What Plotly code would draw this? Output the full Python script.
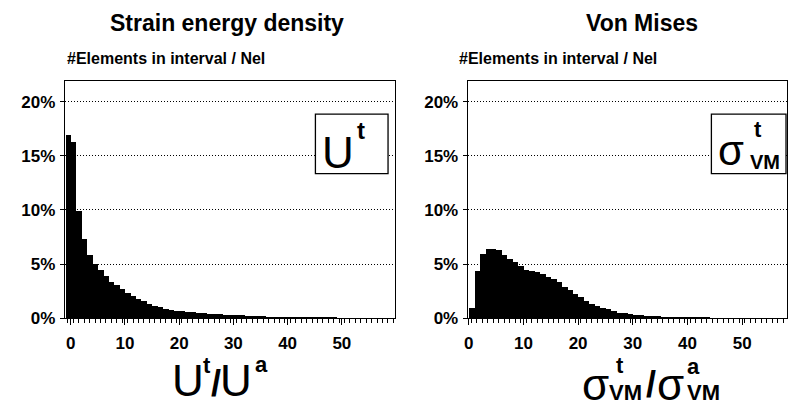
import plotly.graph_objects as go
import numpy as np

# ---------------- data (percent of elements per interval) ----------------
sed_values = [16.9, 16.3, 9.9, 7.3, 5.8, 5.0, 4.45, 3.9, 3.36, 3.04, 2.73, 2.34, 2.05, 1.8,
              1.56, 1.32, 1.14, 0.99, 0.84, 0.75, 0.69, 0.63, 0.57, 0.54, 0.5, 0.46, 0.42,
              0.39, 0.36, 0.33, 0.3, 0.27, 0.25, 0.22, 0.2, 0.18, 0.16, 0.14, 0.12, 0.1,
              0.09, 0.08, 0.07, 0.06, 0.05, 0.04, 0.03, 0.03, 0.02, 0.02, 0.01, 0.01, 0.0,
              0.0, 0.0, 0.0, 0.0, 0.0, 0.0, 0.0]
vm_values = [0.96, 4.4, 5.9, 6.38, 6.38, 6.26, 5.84, 5.45, 5.15, 4.79, 4.49, 4.4, 4.25, 4.04,
             3.8, 3.6, 3.3, 2.9, 2.63, 2.25, 1.95, 1.59, 1.35, 1.14, 0.96, 0.81, 0.69, 0.51,
             0.45, 0.39, 0.33, 0.27, 0.24, 0.2, 0.16, 0.13, 0.1, 0.08, 0.06, 0.05, 0.04,
             0.03, 0.02, 0.02, 0.01, 0.01, 0.0, 0.0, 0.0, 0.0, 0.0, 0.0, 0.0, 0.0, 0.0,
             0.0, 0.0, 0.0]
sed_bin_start = -1.0   # first interval of left histogram
vm_bin_start = 0.0     # first interval of right histogram
x_tick_vals = [0, 10, 20, 30, 40, 50]
y_tick_vals = [0, 5, 10, 15, 20]
y_tick_text = ["0%", "5%", "10%", "15%", "20%"]
title_left = "Strain energy density"
title_right = "Von Mises"
ylabel = "#Elements in interval / Nel"

W, H = 789, 415
def px(x):
    return x / W
def py(y):
    return 1 - y / H

FONT = "Liberation Sans"

sed_x = sed_bin_start + 0.5 + np.arange(len(sed_values))
vm_x = vm_bin_start + 0.5 + np.arange(len(vm_values))

fig = go.Figure()
fig.add_trace(go.Bar(x=sed_x, y=sed_values, width=1.0, marker=dict(color="black", line=dict(width=0)),
                     xaxis="x", yaxis="y", showlegend=False))
fig.add_trace(go.Bar(x=vm_x, y=vm_values, width=1.0, marker=dict(color="black", line=dict(width=0)),
                     xaxis="x2", yaxis="y2", showlegend=False))

tickfont = dict(family=FONT, size=17, color="black", weight="bold")

def xax(domain, rng, anchor, tick0):
    return dict(domain=domain, range=rng, anchor=anchor, tickvals=x_tick_vals,
                ticks="outside", ticklen=6, tickcolor="black", tickwidth=1,
                minor=dict(tick0=tick0, dtick=1, ticks="outside", ticklen=4, tickcolor="black", tickwidth=1),
                showline=True, linecolor="black", linewidth=1, mirror=True,
                showgrid=False, zeroline=False, tickfont=tickfont, ticklabelstandoff=3)

def yax(domain, anchor):
    return dict(domain=domain, range=[0, 21.9], anchor=anchor, tickvals=y_tick_vals, ticktext=y_tick_text,
                ticks="outside", ticklen=4, tickcolor="black", tickwidth=1,
                showline=True, linecolor="black", linewidth=1, mirror=True,
                showgrid=True, gridcolor="black", gridwidth=1, griddash="1px,2px",
                zeroline=False, tickfont=tickfont, ticklabelstandoff=1)

ydom = [py(326), py(83)]
fig.update_layout(
    width=W, height=H, margin=dict(l=0, r=0, t=0, b=0),
    paper_bgcolor="white", plot_bgcolor="white", bargap=0,
    xaxis=xax([px(61), px(393)], [-1.1, 59.8], "y", sed_bin_start + 0.5),
    yaxis=yax(ydom, "x"),
    xaxis2=xax([px(466), px(787)], [-0.2, 58.2], "y2", vm_bin_start + 0.5),
    yaxis2=yax(ydom, "x2"),
)

ann = []
def A(text, x, y, size, bold=True, xanchor="center", yanchor="middle"):
    ann.append(dict(text=text, x=px(x), y=py(y), xref="paper", yref="paper", showarrow=False,
                    xanchor=xanchor, yanchor=yanchor,
                    font=dict(family=FONT, size=size, color="black", weight="bold" if bold else "normal")))

A(title_left, 224, 24, 23)
A(title_right, 641, 24, 23)
A(ylabel, 61, 60, 16, xanchor="left")
A(ylabel, 455, 60, 16, xanchor="left")

# inset boxes
shapes = [
    dict(type="rect", xref="paper", yref="paper", x0=px(313), x1=px(386), y0=py(178), y1=py(117),
         line=dict(color="black", width=1.3), fillcolor="white", layer="above"),
    dict(type="rect", xref="paper", yref="paper", x0=px(711), x1=px(786), y0=py(178), y1=py(117),
         line=dict(color="black", width=1.3), fillcolor="white", layer="above"),
]
fig.update_layout(shapes=shapes)

# left inset  U^t
A("U", 336, 156, 44, bold=False)
A("t", 359, 134, 24)
# right inset sigma^t_VM
A("σ", 731, 154, 42, bold=False)
A("t", 758, 133, 22)
A("VM", 765, 166, 20)

# left x-axis title U^t / U^a
A("U", 185, 390, 44, bold=False)
A("t", 204, 375, 22)
A("/", 213, 393, 36)
A("U", 233, 390, 44, bold=False)
A("a", 259, 374, 22)

# right x-axis title sigma^t_VM / sigma^a_VM
A("σ", 595, 394, 44, bold=False)
A("t", 619, 375, 22)
A("VM", 625, 402, 22)
A("/", 650, 394, 36)
A("σ", 670, 394, 44, bold=False)
A("a", 693, 376, 22)
A("VM", 703, 402, 22)

fig.update_layout(annotations=ann)
fig.write_html("out.html")
